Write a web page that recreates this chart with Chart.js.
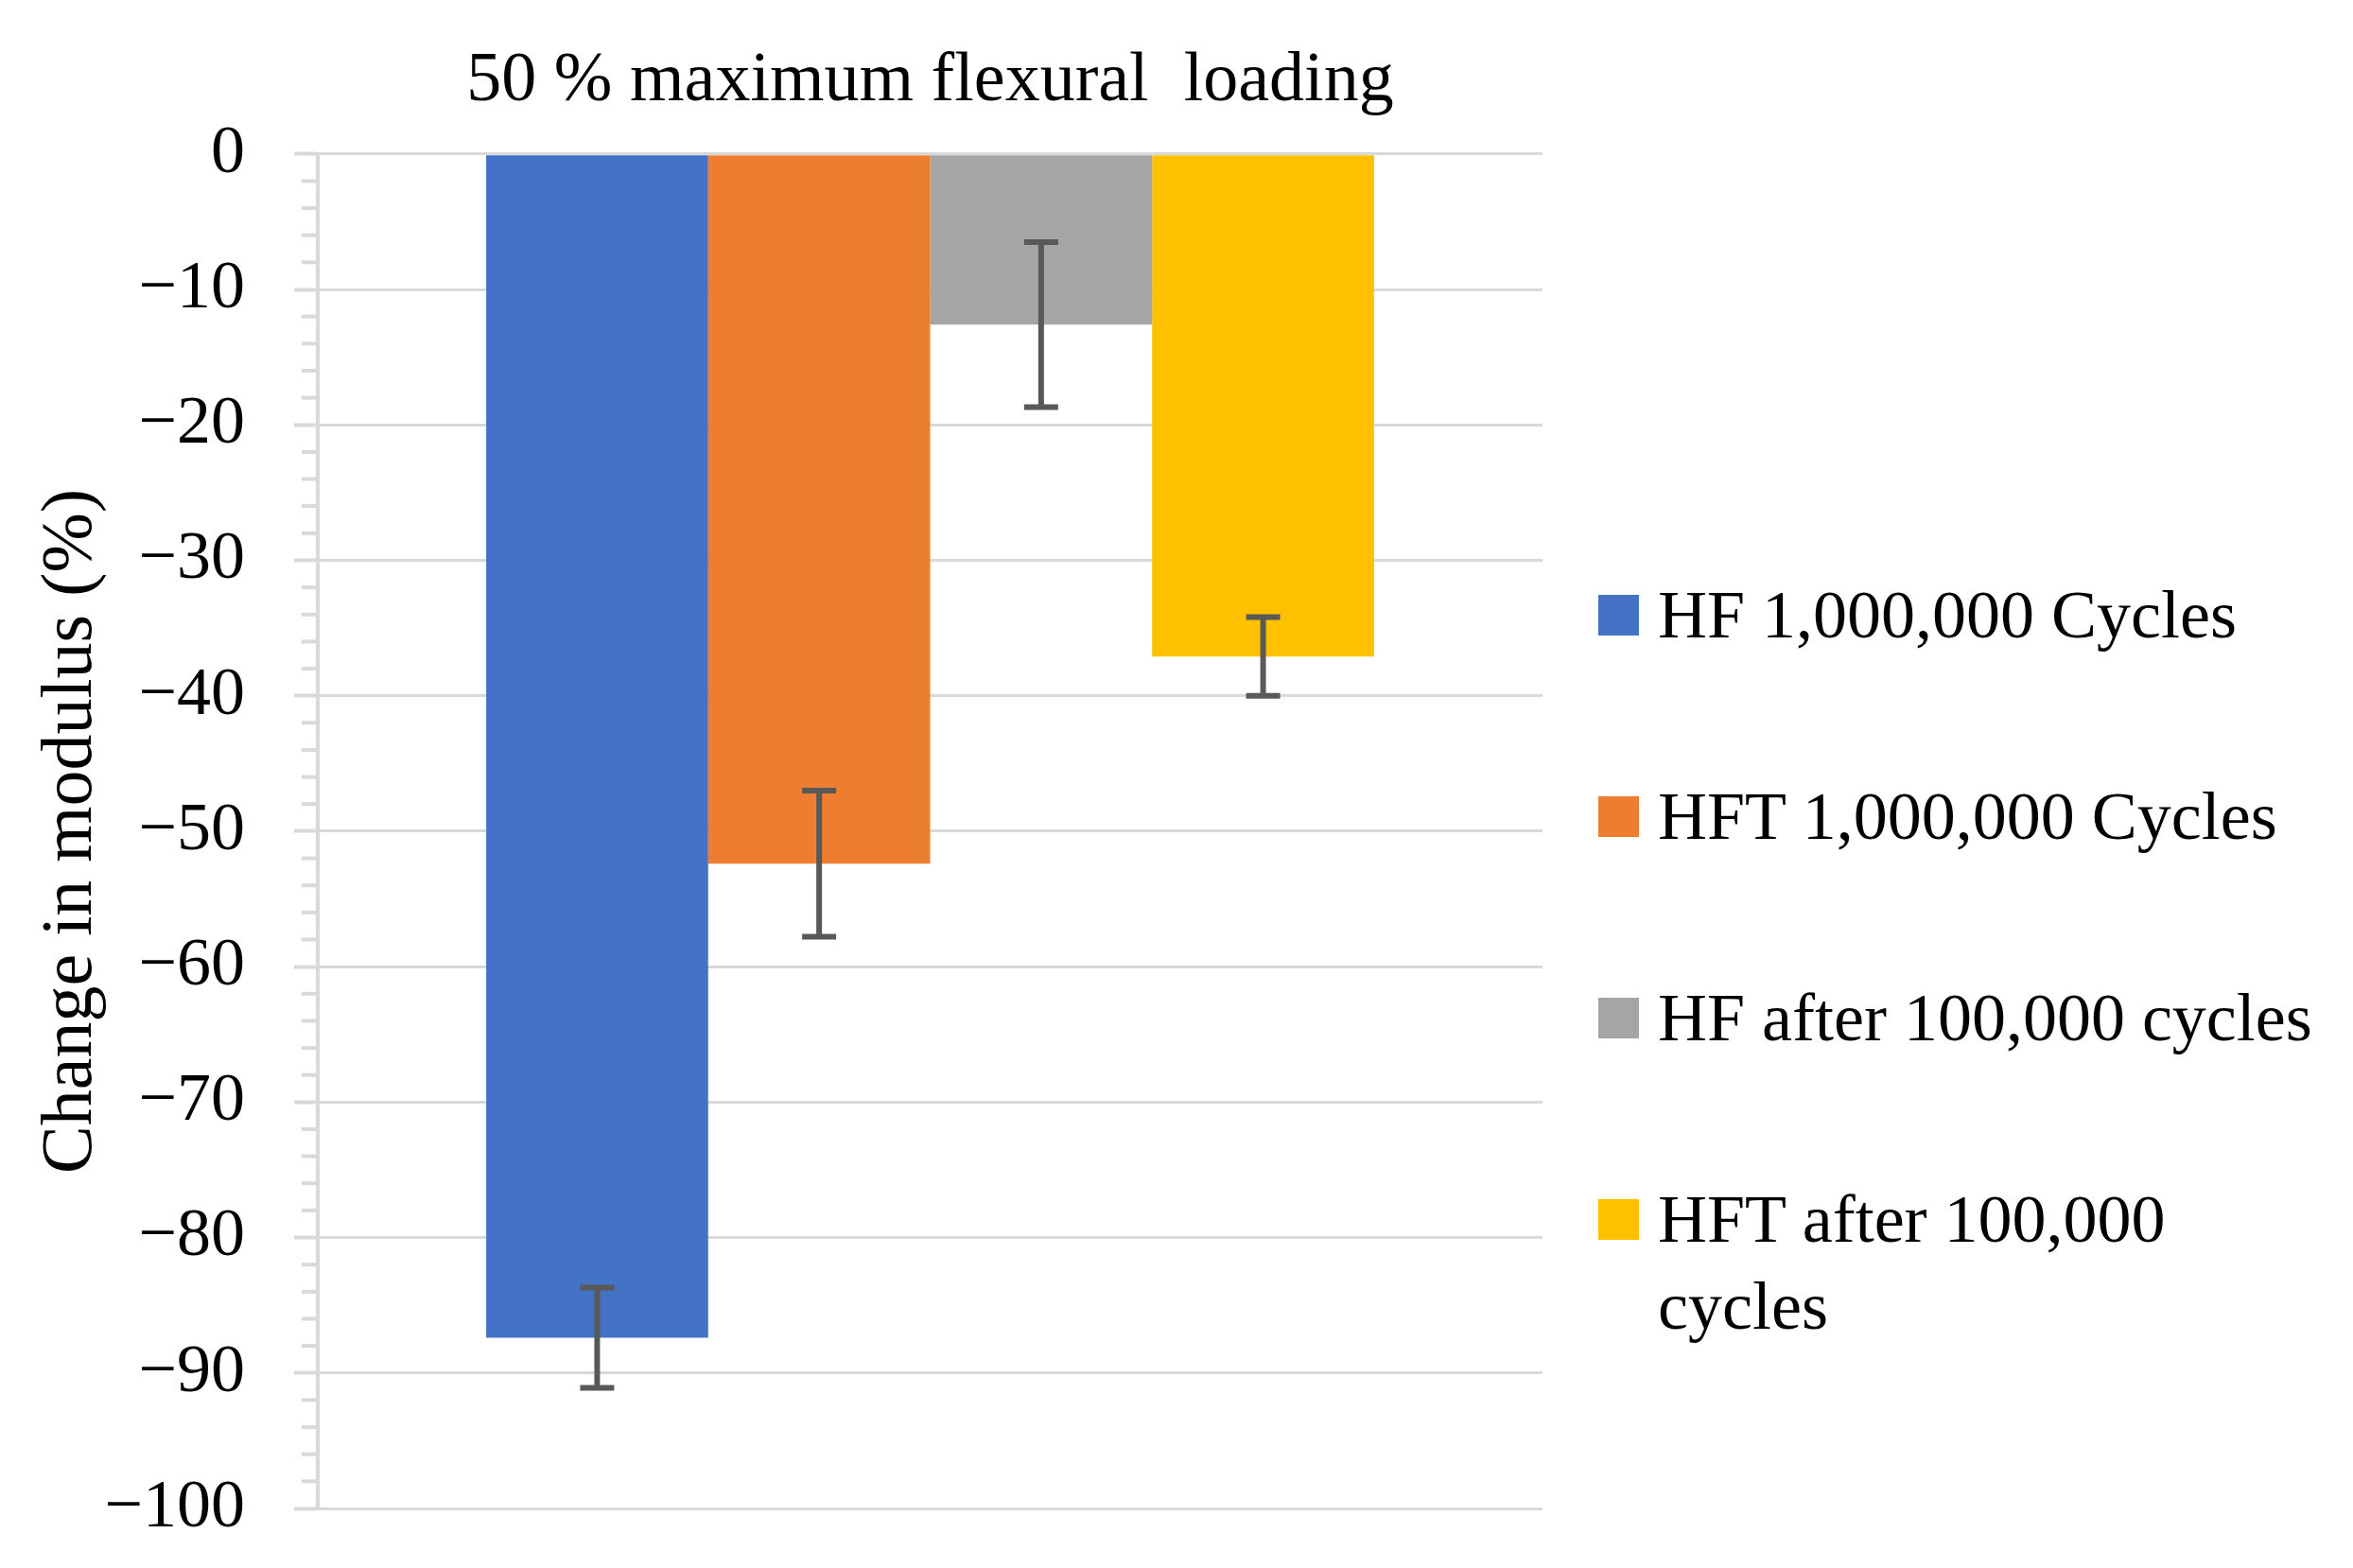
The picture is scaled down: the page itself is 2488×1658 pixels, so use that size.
<!DOCTYPE html>
<html>
<head>
<meta charset="utf-8">
<script src="https://cdn.jsdelivr.net/npm/chart.js@4.4.1/dist/chart.umd.min.js"></script>
<style>
  html, body { margin: 0; padding: 0; background: #fff; }
  #wrap { position: relative; width: 2488px; height: 1658px; }
  #legend {
    position: absolute; left: 1690px; top: 604px;
    font-family: 'Liberation Serif', serif; font-size: 72px; color: #000;
  }
  .legend-item { display: flex; align-items: flex-start; margin-bottom: 121px; line-height: 92px; }
  .legend-box { width: 43px; height: 43px; margin-top: 25px; margin-right: 20px; flex: none; }
  .legend-text { white-space: pre-line; }
</style>
</head>
<body>
<div id="wrap">
  <canvas id="chart" width="2488" height="1658"></canvas>
  <div id="legend"></div>
</div>
<script>
// Chart data
const categories = [''];
const seriesLabels = [
  'HF 1,000,000 Cycles',
  'HFT 1,000,000 Cycles',
  'HF after 100,000 cycles',
  'HFT after 100,000\ncycles'
];
const modulusChange = [-87.4, -52.4, -12.6, -37.1];
const errorValues = [3.7, 5.4, 6.1, 2.9];
const barColors = ['#4472C4', '#ED7D31', '#A5A5A5', '#FFC000'];
const yMin = -100;
const yMax = 0;
const majorStep = 10;
const minorStep = 2;

const FONT = "'Liberation Serif', serif";
const GRID = '#d9d9d9';

/**
 * Draw error bars on top of each bar
 */
const errorBarPlugin = {
  id: 'errorBars',
  afterDatasetsDraw(chart) {
    const ctx = chart.ctx;
    const yScale = chart.scales.y;
    ctx.save();
    ctx.strokeStyle = '#595959';
    ctx.lineWidth = 6;
    chart.data.datasets.forEach((ds, i) => {
      const bar = chart.getDatasetMeta(i).data[0];
      const v = ds.data[0];
      const top = yScale.getPixelForValue(v + ds.errorBar);
      const bottom = yScale.getPixelForValue(v - ds.errorBar);
      const cap = 18;
      ctx.beginPath();
      ctx.moveTo(bar.x, top);
      ctx.lineTo(bar.x, bottom);
      ctx.moveTo(bar.x - cap, top);
      ctx.lineTo(bar.x + cap, top);
      ctx.moveTo(bar.x - cap, bottom);
      ctx.lineTo(bar.x + cap, bottom);
      ctx.stroke();
    });
    ctx.restore();
  }
};

/**
 * Short minor tick marks on the y axis
 */
const minorTickPlugin = {
  id: 'minorTicks',
  beforeDatasetsDraw(chart) {
    const ctx = chart.ctx;
    const yScale = chart.scales.y;
    const left = chart.chartArea.left;
    ctx.save();
    ctx.strokeStyle = GRID;
    ctx.lineWidth = 4;
    yScale.ticks.forEach(t => {
      if (t.value % majorStep === 0) return;
      const py = yScale.getPixelForValue(t.value);
      ctx.beginPath();
      ctx.moveTo(left - 17, py);
      ctx.lineTo(left, py);
      ctx.stroke();
    });
    ctx.restore();
  }
};

const datasets = seriesLabels.map((label, i) => ({
  label: label,
  data: [modulusChange[i]],
  errorBar: errorValues[i],
  backgroundColor: barColors[i],
  borderWidth: 0,
  barPercentage: 1,
  categoryPercentage: 0.725
}));

const chart = new Chart(document.getElementById('chart'), {
  type: 'bar',
  data: { labels: categories, datasets: datasets },
  options: {
    responsive: false,
    devicePixelRatio: 1,
    animation: false,
    layout: { padding: { left: 0, right: 857, top: 0, bottom: 63 } },
    plugins: {
      legend: { display: false },
      tooltip: { enabled: false },
      title: {
        display: true,
        text: '50 % maximum flexural  loading',
        fullSize: false,
        color: '#000',
        font: { family: FONT, size: 74, weight: 'normal', lineHeight: 1.2 },
        padding: { top: 42, bottom: 32 }
      }
    },
    scales: {
      x: { display: false },
      y: {
        min: yMin,
        max: yMax,
        afterFit(scale) {
          scale.width = 336;
          // let the tick labels overhang the plot instead of shrinking it
          scale.paddingTop = 0;
          scale.paddingBottom = 0;
        },
        ticks: {
          stepSize: minorStep,
          autoSkip: false,
          color: '#000',
          padding: 52,
          font: { family: FONT, size: 72 },
          callback: v => (v % majorStep === 0 ? (v < 0 ? '\u2212' + Math.abs(v) : String(v)) : '')
        },
        grid: {
          color: c => (c.tick && c.tick.value % majorStep === 0 ? GRID : 'rgba(0,0,0,0)'),
          lineWidth: 3,
          tickLength: 25,
          tickColor: c => (c.tick && c.tick.value % majorStep === 0 ? GRID : 'rgba(0,0,0,0)'),
          tickWidth: 4
        },
        border: { display: true, color: GRID, width: 4 },
        title: {
          display: true,
          text: 'Change in modulus (%)',
          color: '#000',
          font: { family: FONT, size: 76, lineHeight: 1.2 },
          padding: { top: 30, bottom: 0 }
        }
      }
    }
  },
  plugins: [errorBarPlugin, minorTickPlugin]
});

// Build the legend from the chart datasets
const legendEl = document.getElementById('legend');
chart.data.datasets.forEach(ds => {
  const item = document.createElement('div');
  item.className = 'legend-item';
  const box = document.createElement('span');
  box.className = 'legend-box';
  box.style.background = ds.backgroundColor;
  const text = document.createElement('span');
  text.className = 'legend-text';
  text.textContent = ds.label;
  item.appendChild(box);
  item.appendChild(text);
  legendEl.appendChild(item);
});
</script>
</body>
</html>
